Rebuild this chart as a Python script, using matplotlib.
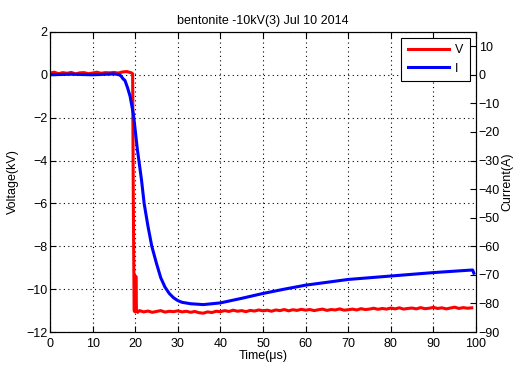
import matplotlib
matplotlib.use("Agg")
import matplotlib.pyplot as plt

plt.rcParams['font.family'] = ['Liberation Sans', 'DejaVu Sans']

# voltage trace (kV)
v_t = [0, 1, 2, 3, 4, 5, 6, 7, 8, 9, 10, 11, 12, 13, 14, 15, 16, 17, 18, 19, 19.4,
       19.55, 19.75, 19.9, 20.05, 20.15, 20.3, 20.6,
       21, 22, 23, 24, 25, 26, 27, 28, 29, 30, 31, 32, 33, 34, 35, 36, 37, 38, 39, 40,
       41, 42, 43, 44, 45, 46, 47, 48, 49, 50, 51, 52, 53, 54, 55, 56, 57, 58, 59, 60,
       61, 62, 63, 64, 65, 66, 67, 68, 69, 70, 71, 72, 73, 74, 75, 76, 77, 78, 79, 80,
       81, 82, 83, 84, 85, 86, 87, 88, 89, 90, 91, 92, 93, 94, 95, 96, 97, 98, 99]
v_kv = [0.08, 0.12, 0.05, 0.1, 0.07, 0.11, 0.04, 0.09, 0.1, 0.05, 0.08, 0.12, 0.07, 0.1, 0.09, 0.11, 0.08, 0.13, 0.15, 0.1, 0.05,
        -5.5, -11.0, -11.05, -10.9, -9.4, -11.0, -11.08,
        -11.0, -11.06, -11.02, -11.08, -11.04, -11.0, -11.07, -11.03, -11.05, -11.01, -11.06, -11.03, -11.08, -11.04, -11.1, -11.12, -11.06, -11.09, -11.03, -11.05,
        -11.0, -11.04, -10.98, -11.03, -11.0, -11.05, -10.99, -11.02, -10.97, -11.01, -10.98, -11.03, -10.97, -11.0, -10.95, -11.01, -10.96, -10.99, -10.94, -10.98,
        -10.95, -11.0, -10.96, -10.93, -10.99, -10.95, -10.97, -10.92, -10.98, -10.96, -10.93, -10.97, -10.91, -10.95, -10.93, -10.89, -10.94, -10.9, -10.93, -10.88,
        -10.92, -10.87, -10.93, -10.9, -10.88, -10.92, -10.86, -10.91, -10.89, -10.85, -10.9, -10.87, -10.92, -10.88, -10.84, -10.9, -10.86, -10.89, -10.87]

# current trace (A)
i_t = [0, 5, 10, 15, 16, 16.6, 17.2, 17.6, 18.2, 18.8, 19.6, 20.5, 21.5, 22.1, 23, 23.9, 25, 26, 27,
       28, 29, 30, 31, 33, 36, 40, 45, 50, 55, 60, 65, 70, 75, 80, 85, 90, 95, 98, 99.2, 99.5]
i_a = [0, 0.2, 0, 0.3, 0.1, -0.3, -1.5, -2.0, -4.5, -7.5, -14, -26, -37, -45, -53, -60, -66, -71, -74.3,
       -76.5, -78, -79, -79.6, -80.1, -80.4, -79.8, -78.2, -76.5, -75.0, -73.6, -72.6, -71.6, -71.0, -70.4, -69.8, -69.2, -68.7, -68.4, -68.3, -69.4]

fig = plt.figure(figsize=(5.24, 3.71), dpi=100)
ax = fig.add_axes([0.0954, 0.105, 0.813, 0.809])
ax2 = ax.twinx()

lv, = ax.plot(v_t, v_kv, color='#ff0000', lw=2.2, label='V')
li, = ax2.plot(i_t, i_a, color='#0000ff', lw=2.2, label='I')

ax.set_xlim(0, 100)
ax.set_ylim(-12, 2)
ax2.set_ylim(-90, 15)
ax.set_xticks(range(0, 101, 10))
ax.set_yticks(range(-12, 3, 2))
ax2.set_yticks(range(-90, 11, 10))

ax.grid(True, color='black', linestyle=(0, (1, 3)), linewidth=0.8)
ax.tick_params(direction='in', length=4, labelsize=9, top=True, pad=2)
ax.tick_params(axis='x', pad=4)
ax2.tick_params(direction='in', length=4, labelsize=9, pad=2)

ax.set_xlabel('Time(μs)', fontsize=9, labelpad=0)
ax.set_ylabel('Voltage(kV)', fontsize=9, labelpad=5)
ax2.set_ylabel('Current(A)', fontsize=9, labelpad=1)
ax.set_title('bentonite -10kV(3) Jul 10 2014', fontsize=9, pad=6)

leg = ax.legend([lv, li], ['V', 'I'], loc='upper right', fontsize=9,
                fancybox=False, framealpha=1, edgecolor='black',
                borderaxespad=0.5, handlelength=3.3, labelspacing=0.5,
                handletextpad=0.5, borderpad=0.5)
leg.get_frame().set_linewidth(0.8)

fig.savefig('out.png', dpi=100)
